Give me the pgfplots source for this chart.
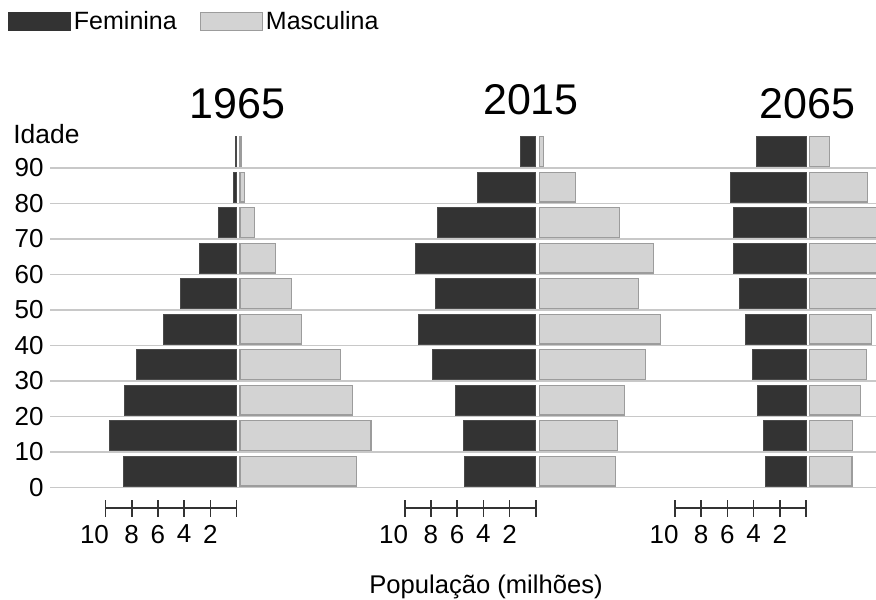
\documentclass[border=0pt]{standalone}
\usepackage{fontspec}
\setmainfont{Liberation Sans}
\usepackage{pgfplots}
\usepackage{pgfplotstable}
\pgfplotsset{compat=1.18}

\definecolor{fem}{HTML}{333333}
\definecolor{femline}{HTML}{4A4A4A}
\definecolor{masc}{HTML}{D3D3D3}
\definecolor{mascline}{HTML}{9C9C9C}
\definecolor{gridc}{HTML}{C8C8C8}
\definecolor{scalec}{HTML}{333333}

% populacao em milhoes por faixa etaria (f = feminina, m = masculina)
\pgfplotstableread{
idade f1965 m1965 f2015 m2015 f2065 m2065
0     8.6   8.9   5.45  5.8   3.1   3.25
10    9.7   10.0  5.55  6.0   3.25  3.3
20    8.55  8.6   6.1   6.5   3.7   3.9
30    7.6   7.65  7.9   8.1   4.05  4.35
40    5.6   4.7   8.95  9.25  4.6   4.75
50    4.25  3.95  7.65  7.6   5.1   5.3
60    2.85  2.7   9.15  8.7   5.55  5.5
70    1.35  1.1   7.5   6.15  5.55  5.4
80    0.25  0.33  4.45  2.8   5.75  4.4
90    0.08  0.1   1.15  0.35  3.75  1.55
}\dados

\pgfplotsset{
  piramide/.style={
    anchor=south west, scale only axis,
    width=144.1pt, height=177.5pt,
    xmin=-11, xmax=11, ymin=0, ymax=100,
    axis lines=none, clip=false,
  },
  fembar/.style={xbar, bar width=8.4, bar shift=4.6,
    fill=fem, draw=femline, line width=0.5pt},
  mascbar/.style={xbar, bar width=8.4, bar shift=4.6,
    fill=masc, draw=mascline, line width=0.6pt, xshift=1.75pt},
  escala/.style={
    anchor=south west, scale only axis,
    width=65.5pt, height=2pt,
    xmin=-10, xmax=0, ymin=0, ymax=1,
    axis x line=bottom, axis y line=none,
    x axis line style={-, line width=0.9pt, color=scalec},
    xtick={-8,-6,-4,-2,0}, xticklabels={8,6,4,2,{}},
    extra x ticks={-10}, extra x tick labels={10},
    extra x tick style={xticklabel style={xshift=-5.5pt}},
    tick align=center, major tick length=8.5pt,
    tick style={line width=0.8pt, color=scalec},
    xticklabel style={font=\fontsize{13}{13}\selectfont, inner sep=0pt, anchor=north, yshift=-3.85pt},
  },
}

\begin{document}
\begin{tikzpicture}
\path[use as bounding box, clip] (0,0) rectangle (438pt,299.5pt);

% linhas de grade e eixo de idade
\begin{axis}[
  at={(25pt,55.75pt)}, anchor=south west, scale only axis,
  width=425pt, height=177.5pt,
  xmin=0, xmax=1, ymin=0, ymax=100,
  xtick=\empty, ytick={0,10,...,90},
  ymajorgrids, grid style={gridc, line width=0.75pt},
  axis line style={draw=none}, major tick length=0pt,
  yticklabel style={font=\fontsize{13}{13}\selectfont, inner sep=0pt, xshift=-3pt},
  /pgf/number format/assume math mode=true,
]
\end{axis}

% 1965
\begin{axis}[piramide, at={(46.2pt,55.75pt)},
  legend style={at={(-0.293,1.351)}, anchor=north west, draw=none, fill=none,
    inner sep=0pt, outer sep=0pt, legend columns=2,
    font=\fontsize{12.5}{12.5}\selectfont,
    nodes={inner sep=1.5pt},
    /tikz/column 2/.style={column sep=10pt}},
]
\addplot[fembar, legend image code/.code={\draw[fill=fem, draw=fem] (0pt,-4.5pt) rectangle (31pt,4.5pt);}]
  table[x expr=-\thisrow{f1965}, y=idade] {\dados};
\addlegendentry{Feminina}
\addplot[mascbar, legend image code/.code={\draw[fill=masc, draw=mascline, line width=0.6pt] (0pt,-4.5pt) rectangle (31pt,4.5pt);}]
  table[x=m1965, y=idade] {\dados};
\addlegendentry{Masculina}
\end{axis}

% 2015
\begin{axis}[piramide, at={(195.8pt,55.75pt)}]
\addplot[fembar] table[x expr=-\thisrow{f2015}, y=idade] {\dados};
\addplot[mascbar] table[x=m2015, y=idade] {\dados};
\end{axis}

% 2065
\begin{axis}[piramide, at={(330.95pt,55.75pt)}]
\addplot[fembar] table[x expr=-\thisrow{f2065}, y=idade] {\dados};
\addplot[mascbar] table[x=m2065, y=idade] {\dados};
\end{axis}

% escalas
\begin{axis}[escala, at={(52.75pt,45.35pt)}]
\end{axis}
\begin{axis}[escala, at={(202.35pt,45.35pt)}]
\end{axis}
\begin{axis}[escala, at={(337.5pt,45.35pt)}]
\end{axis}

\node[font=\fontsize{21.5}{21.5}\selectfont] at (118.75pt,247.5pt) {1965};
\node[font=\fontsize{21.5}{21.5}\selectfont] at (265.5pt,249.5pt) {2015};
\node[font=\fontsize{21.5}{21.5}\selectfont] at (403.75pt,247.5pt) {2065};
\node[font=\fontsize{13.2}{13.2}\selectfont, anchor=base west, inner sep=0pt] at (6.5pt,227.5pt) {Idade};
\node[font=\fontsize{12.8}{12.8}\selectfont, anchor=base, inner sep=0pt] at (243pt,3pt) {População (milhões)};
\end{tikzpicture}
\end{document}
